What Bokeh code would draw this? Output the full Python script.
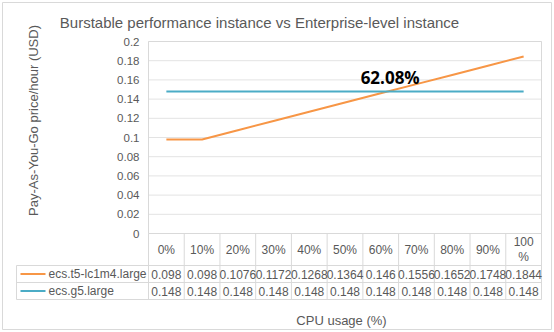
from bokeh.plotting import figure
from bokeh.models import Range1d
from bokeh.core.properties import value
from bokeh.embed import file_html
from bokeh.resources import INLINE

# ---------------- data ----------------
cpu_usage = [0, 10, 20, 30, 40, 50, 60, 70, 80, 90, 100]
cpu_labels = ["0%", "10%", "20%", "30%", "40%", "50%", "60%", "70%", "80%", "90%", "100\n%"]
t5_price = [0.098, 0.098, 0.1076, 0.1172, 0.1268, 0.1364, 0.146, 0.1556, 0.1652, 0.1748, 0.1844]
g5_price = [0.148, 0.148, 0.148, 0.148, 0.148, 0.148, 0.148, 0.148, 0.148, 0.148, 0.148]
series_names = ["ecs.t5-lc1m4.large", "ecs.g5.large"]
series_colors = ["#F79646", "#4BACC6"]
y_ticks = [0, 0.02, 0.04, 0.06, 0.08, 0.1, 0.12, 0.14, 0.16, 0.18, 0.2]
y_tick_labels = ["0", "0.02", "0.04", "0.06", "0.08", "0.1", "0.12", "0.14", "0.16", "0.18", "0.2"]
crossover_pct = 62.08
crossover_label = "62.08%"
title_text = "Burstable performance instance vs Enterprise-level instance"
y_title = "Pay-As-You-Go price/hour (USD)"
x_title = "CPU usage (%)"

# ---------------- layout helpers (pixel -> data) ----------------
W, H = 554, 332
PL, PR, PT, PB = 148, 541, 41, 233   # plot area in pixels
n = len(cpu_usage)
cw = (PR - PL) / n                    # column width in px
ymax = 0.2
ppu = (PB - PT) / ymax                # pixels per unit


def X(px):
    return (px - PL) / cw - 0.5


def Y(py):
    return (PB - py) / ppu


FONT = value("Liberation Sans")
TXT = "#595959"
GRID = "#E3E3E3"
BORDER = "#D9D9D9"

p = figure(width=W, height=H, x_range=Range1d(X(0), X(W)), y_range=Range1d(Y(H), Y(0)),
           min_border=0, x_axis_type=None, y_axis_type=None, toolbar_location=None,
           output_backend="svg", outline_line_color=None, background_fill_color="white",
           border_fill_color="white")
p.xgrid.visible = False
p.ygrid.visible = False

# outer chart border
p.quad(left=X(2), right=X(551), top=Y(2), bottom=Y(329), fill_color=None,
       line_color=BORDER, line_width=1)

# horizontal gridlines
xs_left = -0.5
xs_right = n - 0.5
p.segment(x0=[xs_left] * len(y_ticks), x1=[xs_right] * len(y_ticks), y0=y_ticks, y1=y_ticks,
          line_color=GRID, line_width=1)

# plot area border
p.quad(left=xs_left, right=xs_right, bottom=0, top=ymax, fill_color=None,
       line_color=BORDER, line_width=1)

# data table grid
row_lines_py = [265, 282, 299]
p.segment(x0=[X(16)] * 3, x1=[xs_right] * 3, y0=[Y(v) for v in row_lines_py],
          y1=[Y(v) for v in row_lines_py], line_color=BORDER, line_width=1)
col_x = [i - 0.5 for i in range(n + 1)]
p.segment(x0=col_x, x1=col_x, y0=[0] * len(col_x), y1=[Y(299)] * len(col_x),
          line_color=BORDER, line_width=1)
p.segment(x0=[X(16)], x1=[X(16)], y0=[Y(265)], y1=[Y(299)], line_color=BORDER, line_width=1)

# series lines
idx = list(range(n))
p.line(idx, t5_price, line_color=series_colors[0], line_width=2)
p.line(idx, g5_price, line_color=series_colors[1], line_width=2)

# crossover label
cx = crossover_pct / 10
p.text(x=[cx], y=[g5_price[0]], text=[crossover_label], text_font=value("Open Sans"),
       text_font_style="bold", text_font_size="17px", text_color="black",
       text_align="center", text_baseline="alphabetic", x_offset=2, y_offset=-14)

# y tick labels
p.text(x=[X(139)] * len(y_ticks), y=y_ticks, text=y_tick_labels, text_font=FONT,
       text_font_size="11.5px", text_color=TXT, text_align="right", text_baseline="middle")

# header row (categories)
p.text(x=idx, y=[Y(249)] * n, text=cpu_labels, text_font=FONT, text_font_size="12px",
       text_color=TXT, text_align="center", text_baseline="middle", text_line_height=1.1)

# table values
row_py = [273.5, 290.5]
for series, ry in zip([t5_price, g5_price], row_py):
    p.text(x=idx, y=[Y(ry)] * n, text=[f"{v:g}" for v in series], text_font=FONT,
           text_font_size="12px", text_color=TXT, text_align="center", text_baseline="middle")

# legend keys in table
for name, col, ry in zip(series_names, series_colors, row_py):
    p.segment(x0=[X(20)], x1=[X(45)], y0=[Y(ry)], y1=[Y(ry)], line_color=col, line_width=2)
    p.text(x=[X(48)], y=[Y(ry)], text=[name], text_font=FONT, text_font_size="12px",
           text_color=TXT, text_align="left", text_baseline="middle")

# titles
p.text(x=[X(259)], y=[Y(22)], text=[title_text], text_font=FONT, text_font_size="15px",
       text_color=TXT, text_align="center", text_baseline="alphabetic")
p.text(x=[X(33)], y=[Y(120)], text=[y_title], text_font=FONT, text_font_size="13px",
       text_color=TXT, text_align="center", text_baseline="alphabetic", angle=1.5707963)
p.text(x=[X(341)], y=[Y(320)], text=[x_title], text_font=FONT, text_font_size="13px",
       text_color=TXT, text_align="center", text_baseline="alphabetic")

open("out.html", "w").write(file_html(p, INLINE))
